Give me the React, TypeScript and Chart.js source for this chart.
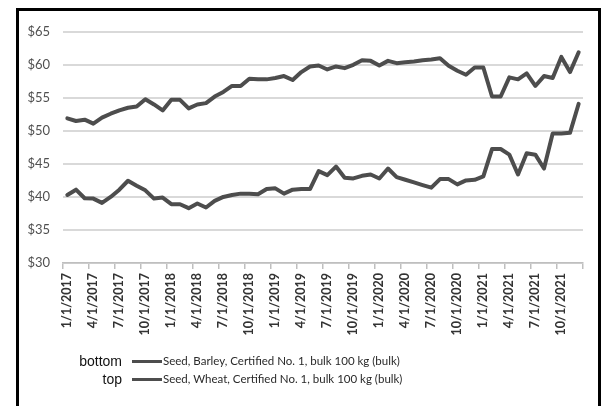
import React, { useEffect, useRef } from "react";
import { Chart, registerables } from "chart.js";

Chart.register(...registerables);

const YEARS = [2017, 2018, 2019, 2020, 2021];
const MONTH_NUMBERS = [1, 2, 3, 4, 5, 6, 7, 8, 9, 10, 11, 12];
const MONTHS: string[] = YEARS.flatMap((y) => MONTH_NUMBERS.map((m) => `${m}/1/${y}`));
const TICK_LABELS = [
  "1/1/2017", "4/1/2017", "7/1/2017", "10/1/2017",
  "1/1/2018", "4/1/2018", "7/1/2018", "10/1/2018",
  "1/1/2019", "4/1/2019", "7/1/2019", "10/1/2019",
  "1/1/2020", "4/1/2020", "7/1/2020", "10/1/2020",
  "1/1/2021", "4/1/2021", "7/1/2021", "10/1/2021",
];

const BARLEY_LABEL = "Seed, Barley, Certified No. 1, bulk 100 kg (bulk)";
const WHEAT_LABEL = "Seed, Wheat, Certified No. 1, bulk 100 kg (bulk)";

const BARLEY = [
  40.3, 41.1, 39.8, 39.75, 39.1, 40.0, 41.1, 42.45, 41.7, 41.0, 39.75, 39.9,
  38.9, 38.9, 38.3, 39.0, 38.4, 39.4, 40.0, 40.3, 40.5, 40.5, 40.4, 41.2,
  41.3, 40.5, 41.1, 41.2, 41.2, 43.9, 43.3, 44.6, 42.9, 42.8, 43.2, 43.4,
  42.8, 44.3, 43.0, 42.6, 42.2, 41.8, 41.4, 42.7, 42.7, 41.9, 42.5, 42.6,
  43.1, 47.25, 47.25, 46.4, 43.4, 46.6, 46.4, 44.3, 49.6, 49.6, 49.7, 54.1,
];

const WHEAT = [
  51.9, 51.5, 51.7, 51.1, 52.0, 52.6, 53.1, 53.5, 53.7, 54.8, 54.0, 53.1,
  54.7, 54.7, 53.4, 54.0, 54.2, 55.2, 55.9, 56.8, 56.8, 57.9, 57.8, 57.8,
  58.0, 58.3, 57.7, 58.9, 59.75, 59.9, 59.3, 59.75, 59.5, 60.0, 60.7, 60.6,
  59.9, 60.6, 60.25, 60.4, 60.5, 60.7, 60.8, 61.0, 59.85, 59.1, 58.5, 59.6,
  59.6, 55.2, 55.2, 58.1, 57.8, 58.7, 56.8, 58.3, 58.0, 61.2, 58.9, 61.9,
];

const Y_MIN = 30;
const Y_MAX = 65;
const Y_STEP = 5;

const LINE_COLOR = "#4d4d4d";

export default function App() {
  const canvasRef = useRef<HTMLCanvasElement | null>(null);

  useEffect(() => {
    const canvas = canvasRef.current;
    if (!canvas) return;
    const chart = new Chart(canvas, {
      type: "line",
      data: {
        labels: MONTHS,
        datasets: [
          {
            label: BARLEY_LABEL,
            data: BARLEY,
            borderColor: LINE_COLOR,
            backgroundColor: LINE_COLOR,
            borderWidth: 4,
            pointRadius: 0,
            tension: 0,
            borderJoinStyle: "round",
            borderCapStyle: "round",
          },
          {
            label: WHEAT_LABEL,
            data: WHEAT,
            borderColor: LINE_COLOR,
            backgroundColor: LINE_COLOR,
            borderWidth: 4,
            pointRadius: 0,
            tension: 0,
            borderJoinStyle: "round",
            borderCapStyle: "round",
          },
        ],
      },
      options: {
        responsive: false,
        animation: false,
        layout: { padding: { left: 0, right: 15, top: 15, bottom: 63 } },
        plugins: {
          legend: { display: false },
          tooltip: { enabled: false },
        },
        scales: {
          x: {
            type: "category",
            offset: true,
            grid: {
              offset: true,
              drawOnChartArea: false,
              drawTicks: true,
              tickLength: 6,
              lineWidth: 1.5,
              color: (ctx: any) =>
                ctx.type !== "tick" || ctx.index % 3 === 0 ? "#bfbfbf" : "rgba(0,0,0,0)",
            },
            border: { display: true, color: "#bfbfbf", width: 1.5 },
            ticks: {
              autoSkip: false,
              minRotation: 90,
              maxRotation: 90,
              padding: 4,
              color: "#333333",
              font: { family: "Lato", size: 12.5, weight: "bold" },
              callback: (_v: any, i: number) => {
                const lbl = MONTHS[i];
                return TICK_LABELS.includes(lbl) ? lbl : "";
              },
            },
            afterFit: (scale: any) => {
              scale.height = 80;
            },
          },
          y: {
            min: Y_MIN,
            max: Y_MAX,
            grid: {
              drawTicks: false,
              color: "#d9d9d9",
              lineWidth: 2,
            },
            border: { display: false },
            ticks: {
              stepSize: Y_STEP,
              padding: 13,
              color: "#505050",
              font: { family: "Lato", size: 13 },
              callback: (v: any) => "$" + v,
            },
            afterFit: (scale: any) => {
              scale.width = 44;
            },
          },
        },
      },
    });
    return () => chart.destroy();
  }, []);

  const rowStyle = (top: number): React.CSSProperties => ({
    position: "absolute",
    left: 0,
    top,
    height: 18,
    width: 560,
  });

  const legendRow = (top: number, side: string, text: string) => (
    <div style={rowStyle(top)}>
      <div
        style={{
          position: "absolute",
          left: 0,
          width: 114,
          top: 0,
          height: 18,
          lineHeight: "18px",
          textAlign: "right",
          fontFamily: "'Liberation Sans', Arial, sans-serif",
          fontSize: 14,
          color: "#111",
        }}
      >
        {side}
      </div>
      <div
        style={{
          position: "absolute",
          left: 124,
          top: 7.5,
          width: 30,
          height: 3,
          background: LINE_COLOR,
        }}
      />
      <div
        style={{
          position: "absolute",
          left: 155,
          top: 0,
          height: 18,
          lineHeight: "18px",
          whiteSpace: "nowrap",
          fontFamily: "Lato, sans-serif",
          fontSize: 11.5,
          color: "#2a2a2a",
        }}
      >
        {text}
      </div>
    </div>
  );

  return (
    <div style={{ position: "relative", width: 594, height: 398, overflow: "hidden" }}>
      <div
        style={{
          position: "absolute",
          left: 8,
          top: 0,
          width: 579,
          height: 420,
          border: "3px solid #000",
          background: "#fff",
        }}
      />
      <canvas
        ref={canvasRef}
        width={579}
        height={395}
        style={{ position: "absolute", left: 11, top: 3, width: 579, height: 395 }}
      />
      {legendRow(344, "bottom", BARLEY_LABEL)}
      {legendRow(362, "top", WHEAT_LABEL)}
    </div>
  );
}
